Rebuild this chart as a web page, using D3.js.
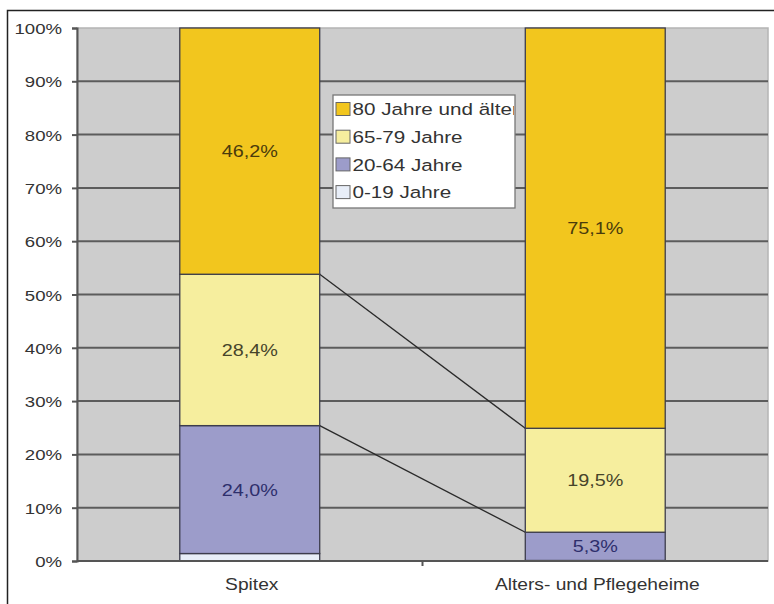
<!DOCTYPE html>
<html>
<head>
<meta charset="utf-8">
<script src="https://cdn.jsdelivr.net/npm/d3@7"></script>
<style>
  body { margin: 0; background: #fff; }
  text { font-family: "Liberation Sans", Arial, sans-serif; }
</style>
</head>
<body>
<svg id="chart" width="774" height="604"></svg>
<script>
'use strict';

// categories and series (shares in %)
var categories = ['Spitex', 'Alters- und Pflegeheime'];
var seriesNames = ['0-19 Jahre', '20-64 Jahre', '65-79 Jahre', '80 Jahre und älter'];
var age0to19 = [1.4, 0.1];
var age20to64 = [24.0, 5.3];
var age65to79 = [28.4, 19.5];
var age80plus = [46.2, 75.1];
var valueLabels = [
  [null, null],
  ['24,0%', '5,3%'],
  ['28,4%', '19,5%'],
  ['46,2%', '75,1%']
];
var yTicks = [0, 10, 20, 30, 40, 50, 60, 70, 80, 90, 100];

var colors = ['#e8eef8', '#9c9cca', '#f6ee9e', '#f2c61e'];
var labelColors = ['#333', '#2e2f6c', '#46442a', '#4a3b0c'];

// the original picture is stretched sideways, so is its text
var STRETCH = 1.2;

var svg = d3.select('#chart'),
    margin = {top: 28, right: 6, bottom: 43, left: 77},
    width = 774 - margin.left - margin.right,
    height = 604 - margin.top - margin.bottom;

/**
 * Places a text at (px, py) and widens it like the source image.
 */
var place = function (sel, px, py) {
  sel.attr('x', 0)
      .attr('y', 0)
      .attr('transform', function (d, i) {
        var tx = typeof px === 'function' ? px(d, i) : px,
            ty = typeof py === 'function' ? py(d, i) : py;
        return 'translate(' + tx + ',' + ty + ') scale(' + STRETCH + ',1)';
      });
  return sel;
};

// outer frame (cut off at right and bottom)
svg.append('path')
    .attr('d', 'M 7.5 604 L 7.5 10.5 L 774 10.5')
    .attr('fill', 'none')
    .attr('stroke', '#222')
    .attr('stroke-width', 1.5);

var g = svg.append('g')
    .attr('transform', 'translate(' + margin.left + ',' + margin.top + ')');

var x = d3.scaleBand()
    .domain(categories)
    .range([0, width])
    .paddingInner(0.595)
    .paddingOuter(0.2975);

var y = d3.scaleLinear()
    .domain([0, 100])
    .range([height, 0]);

// plot background
g.append('rect')
    .attr('width', width)
    .attr('height', height)
    .attr('fill', '#cdcdcd')
    .attr('stroke', '#b4b4b4')
    .attr('stroke-width', 1.5);

// grid lines
g.append('g')
    .selectAll('line')
    .data(yTicks.filter(function (t) { return t > 0 && t < 100; }))
    .join('line')
    .attr('x1', 0)
    .attr('x2', width)
    .attr('y1', function (d) { return y(d); })
    .attr('y2', function (d) { return y(d); })
    .attr('stroke', '#5c5c5c')
    .attr('stroke-width', 2);

// stacked data
var rows = categories.map(function (c, i) {
  return {
    cat: c,
    a: age0to19[i],
    b: age20to64[i],
    c: age65to79[i],
    d: age80plus[i]
  };
});
var stacked = d3.stack().keys(['a', 'b', 'c', 'd'])(rows);

// connector lines between the stacks
var x0 = x(categories[0]) + x.bandwidth(),
    x1 = x(categories[1]);
[1, 2].forEach(function (k) {
  g.append('line')
      .attr('x1', x0)
      .attr('y1', y(stacked[k][0][1]))
      .attr('x2', x1)
      .attr('y2', y(stacked[k][1][1]))
      .attr('stroke', '#2a2a2a')
      .attr('stroke-width', 1.3);
});

// bars
stacked.forEach(function (layer, k) {
  g.append('g')
      .selectAll('rect')
      .data(layer)
      .join('rect')
      .attr('x', function (d) { return x(d.data.cat); })
      .attr('y', function (d) { return y(d[1]); })
      .attr('width', x.bandwidth())
      .attr('height', function (d) { return y(d[0]) - y(d[1]); })
      .attr('fill', colors[k])
      .attr('stroke', '#3c3c4c')
      .attr('stroke-width', 1.3);
});

// value labels
stacked.forEach(function (layer, k) {
  layer.forEach(function (d, i) {
    var txt = valueLabels[k][i];
    if (!txt) {
      return;
    }
    place(g.append('text'),
        x(d.data.cat) + x.bandwidth() / 2,
        (y(d[0]) + y(d[1])) / 2)
        .attr('dy', '0.36em')
        .attr('text-anchor', 'middle')
        .attr('font-size', 16.5)
        .attr('fill', labelColors[k])
        .text(txt);
  });
});

// y axis
var yAxis = g.append('g')
    .call(d3.axisLeft(y)
        .tickValues(yTicks)
        .tickSize(5)
        .tickFormat(function (d) { return d + '%'; }));
yAxis.select('.domain').attr('stroke', '#555').attr('stroke-width', 2);
yAxis.selectAll('.tick line').attr('stroke', '#555').attr('stroke-width', 2);
place(yAxis.selectAll('.tick text'), -15, 0)
    .attr('dy', '0.36em')
    .attr('font-size', 15.5)
    .attr('fill', '#333')
    .style('font-family', '"Liberation Sans", Arial, sans-serif');

// x axis with tick between categories
var xAxisG = g.append('g').attr('transform', 'translate(0,' + height + ')');
xAxisG.append('line')
    .attr('x1', 0)
    .attr('x2', width)
    .attr('stroke', '#555')
    .attr('stroke-width', 2);
xAxisG.append('line')
    .attr('x1', width / 2)
    .attr('x2', width / 2)
    .attr('y1', 0)
    .attr('y2', 5)
    .attr('stroke', '#555')
    .attr('stroke-width', 2);
place(xAxisG.selectAll('text.cat')
    .data(categories)
    .join('text')
    .attr('class', 'cat'),
    function (d) { return x(d) + x.bandwidth() / 2 + 2; }, 29)
    .attr('text-anchor', 'middle')
    .attr('font-size', 16)
    .attr('fill', '#333')
    .text(function (d) { return d; });

// legend (text clipped at the right edge like the original)
var legend = svg.append('g').attr('transform', 'translate(333,95)');
var legW = 182, legH = 113;
svg.append('defs').append('clipPath')
    .attr('id', 'legclip')
    .append('rect')
    .attr('width', legW - 1)
    .attr('height', legH);
legend.append('rect')
    .attr('width', legW)
    .attr('height', legH)
    .attr('fill', '#fff')
    .attr('stroke', '#777')
    .attr('stroke-width', 1.3);
var items = legend.append('g').attr('clip-path', 'url(#legclip)')
    .selectAll('g')
    .data(d3.range(seriesNames.length).reverse())
    .join('g')
    .attr('transform', function (d, i) { return 'translate(0,' + (14 + i * 27.7) + ')'; });
items.append('rect')
    .attr('x', 3)
    .attr('y', -6.5)
    .attr('width', 14)
    .attr('height', 13)
    .attr('fill', function (d) { return colors[d]; })
    .attr('stroke', '#666')
    .attr('stroke-width', 1);
place(items.append('text'), 19.5, 0)
    .attr('dy', '0.36em')
    .attr('font-size', 17.2)
    .attr('fill', '#333')
    .text(function (d) { return seriesNames[d]; });
</script>
</body>
</html>
